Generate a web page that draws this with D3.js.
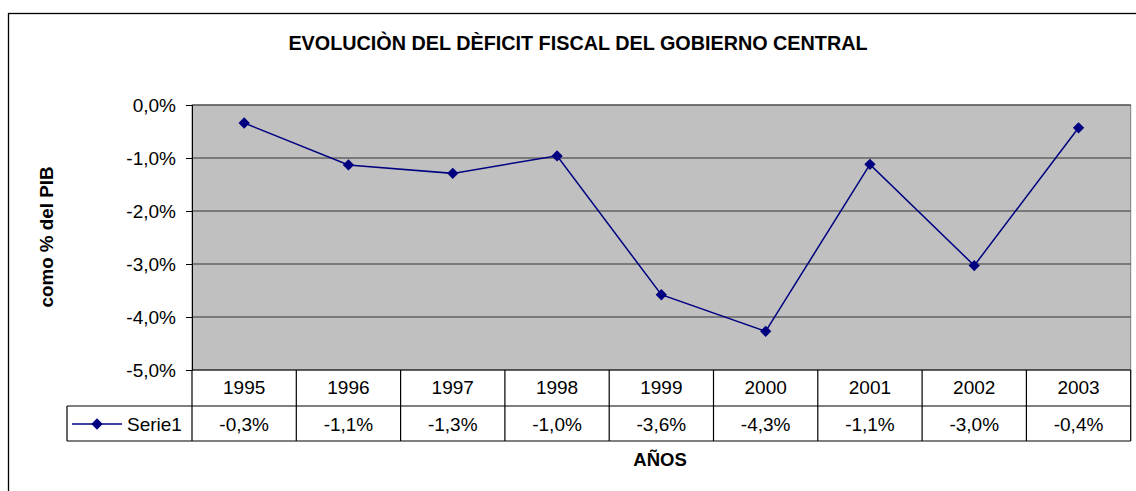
<!DOCTYPE html>
<html>
<head>
<meta charset="utf-8">
<script src="https://cdn.jsdelivr.net/npm/d3@7"></script>
<style>
body { margin:0; background:#fff; }
svg { display:block; font-family:"Liberation Sans", Arial, sans-serif; }
</style>
</head>
<body>
<svg id="chart" width="1136" height="491"></svg>
<script>
var years = ["1995","1996","1997","1998","1999","2000","2001","2002","2003"]
var deficit = [-0.34,-1.13,-1.29,-0.96,-3.58,-4.27,-1.12,-3.03,-0.43]
var tableLabels = ["-0,3%","-1,1%","-1,3%","-1,0%","-3,6%","-4,3%","-1,1%","-3,0%","-0,4%"]
var yTicks = [0,-1,-2,-3,-4,-5]
var seriesName = "Serie1"

var svg = d3.select("#chart")
var pLeft=192, pRight=1130.7, pTop=105, pBottom=370
var row1=406, row2=441, legLeft=67

var x = d3.scaleBand().domain(years).range([pLeft,pRight]).padding(0)
var y = d3.scaleLinear().domain([-5,0]).range([pBottom,pTop])
var fmt = function(v){ return d3.format(".1f")(v).replace(".",",").replace("−","-")+"%" }

// outer chart border
svg.append("rect").attr("x",8.5).attr("y",13.5).attr("width",1200).attr("height",600)
   .style("fill","none").style("stroke","#000").style("stroke-width",1.3)

svg.append("text").attr("x",578).attr("y",50).attr("text-anchor","middle")
   .style("font-weight","bold").style("font-size","19.8px")
   .text("EVOLUCIÒN DEL DÈFICIT FISCAL DEL GOBIERNO CENTRAL")

// plot area
svg.append("rect").attr("x",pLeft).attr("y",pTop).attr("width",pRight-pLeft).attr("height",pBottom-pTop)
   .style("fill","#c0c0c0").style("stroke","#808080")

svg.append("g").selectAll("line").data(yTicks.filter(d=>d>-5)).join("line")
   .attr("x1",pLeft).attr("x2",pRight).attr("y1",d=>y(d)).attr("y2",d=>y(d))
   .style("stroke","#333").style("stroke-width",1.2)

var yAxis = svg.append("g").attr("transform","translate("+pLeft+",0)")
   .call(d3.axisLeft(y).tickValues(yTicks).tickFormat(fmt).tickSize(6).tickPadding(10))
yAxis.select(".domain").attr("stroke","#000")
yAxis.selectAll("text").style("font-size","19px").style("font-family","Liberation Sans, Arial").attr("fill","#000")

svg.append("text").attr("transform","translate(53,237) rotate(-90)").attr("text-anchor","middle")
   .style("font-weight","bold").style("font-size","18.8px").text("como % del PIB")

// series
var line = d3.line().x((d,i)=>x(years[i])+x.bandwidth()/2).y(d=>y(d))
svg.append("path").datum(deficit).attr("d",line)
   .style("fill","none").style("stroke","#000080").style("stroke-width",1.5)
var diamond = d3.symbol().type(d3.symbolSquare).size(64)
svg.append("g").selectAll("path").data(deficit).join("path")
   .attr("d",diamond)
   .attr("transform",(d,i)=>"translate("+(x(years[i])+x.bandwidth()/2)+","+y(d)+") rotate(45)")
   .style("fill","#000080")

// data table
var tbl = svg.append("g").style("stroke","#000").style("stroke-width",1.2)
tbl.append("line").attr("x1",pLeft).attr("x2",pRight).attr("y1",pBottom).attr("y2",pBottom)
tbl.append("line").attr("x1",legLeft).attr("x2",pRight).attr("y1",row1).attr("y2",row1)
tbl.append("line").attr("x1",legLeft).attr("x2",pRight).attr("y1",row2).attr("y2",row2)
tbl.append("line").attr("x1",legLeft).attr("x2",legLeft).attr("y1",row1).attr("y2",row2)
tbl.selectAll(".col").data(years.concat(["end"])).join("line")
   .attr("x1",(d,i)=>pLeft+i*x.bandwidth()).attr("x2",(d,i)=>pLeft+i*x.bandwidth())
   .attr("y1",pBottom).attr("y2",row2)

svg.append("g").selectAll("text").data(years).join("text")
   .attr("x",d=>x(d)+x.bandwidth()/2).attr("y",393.5).attr("text-anchor","middle")
   .style("font-size","19px").text(d=>d)
svg.append("g").selectAll("text").data(tableLabels).join("text")
   .attr("x",(d,i)=>x(years[i])+x.bandwidth()/2).attr("y",431).attr("text-anchor","middle")
   .style("font-size","19px").text(d=>d)

// legend key in the table
var ly = 424
svg.append("line").attr("x1",72).attr("x2",122).attr("y1",ly).attr("y2",ly)
   .style("stroke","#000080").style("stroke-width",1.5)
svg.append("path").attr("d",diamond).attr("transform","translate(97,"+ly+") rotate(45)").style("fill","#000080")
svg.append("text").attr("x",127).attr("y",431).style("font-size","19px").text(seriesName)

svg.append("text").attr("x",660).attr("y",466).attr("text-anchor","middle")
   .style("font-weight","bold").style("font-size","18.5px").text("AÑOS")
</script>
</body>
</html>
